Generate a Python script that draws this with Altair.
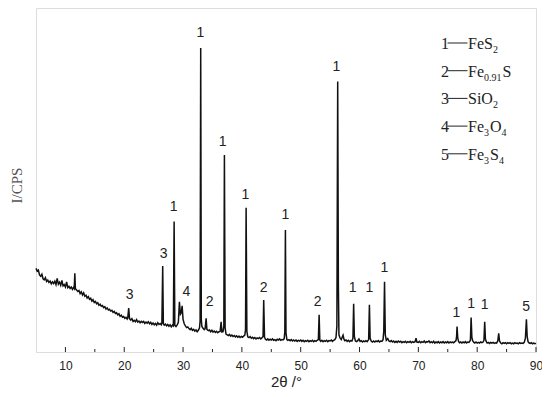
import altair as alt
import pandas as pd

# ---------------- data ----------------
# XRD trace: (2theta in degrees, intensity in arbitrary units 0-100)
trace = [
    (5.0, 24.3), (5.2, 23.5), (5.4, 23.8), (5.6, 22.4), (5.8, 22.0), (6.0, 22.6), (6.2, 21.3),
    (6.4, 21.0), (6.6, 21.6), (6.8, 20.5), (7.0, 20.9), (7.2, 20.2), (7.4, 20.6), (7.6, 19.8),
    (7.8, 20.4), (8.0, 19.9), (8.2, 20.6), (8.4, 19.6), (8.6, 21.4), (8.8, 19.7), (9.0, 20.3),
    (9.2, 19.4), (9.4, 20.8), (9.6, 19.2), (9.8, 19.6), (10.0, 18.9), (10.2, 20.4), (10.4, 18.7),
    (10.6, 19.1), (10.8, 18.5), (11.0, 18.9), (11.2, 18.2), (11.4, 18.8), (11.5, 18.5), (11.6, 22.9),
    (11.7, 18.4), (11.9, 18.0), (12.1, 17.6), (12.3, 17.9), (12.5, 17.0), (12.7, 17.5), (12.9, 16.6),
    (13.1, 17.2), (13.3, 16.2), (13.5, 16.5), (13.7, 15.7), (13.9, 16.1), (14.1, 15.3), (14.3, 15.6),
    (14.5, 14.8), (14.7, 15.2), (14.9, 14.4), (15.1, 14.7), (15.3, 14.0), (15.5, 14.3), (15.7, 13.6),
    (15.9, 13.9), (16.1, 13.3), (16.3, 13.5), (16.5, 12.9), (16.7, 13.2), (16.9, 12.5), (17.1, 12.8),
    (17.3, 12.2), (17.5, 12.4), (17.7, 11.9), (17.9, 12.1), (18.1, 11.5), (18.3, 11.8), (18.5, 11.2),
    (18.7, 11.4), (18.9, 10.8), (19.1, 11.1), (19.3, 10.4), (19.5, 10.7), (19.7, 10.1), (19.9, 10.3),
    (20.1, 9.8), (20.3, 10.1), (20.5, 9.6), (20.6, 9.9), (20.76, 12.8), (20.9, 9.7), (21.1, 9.3),
    (21.3, 9.7), (21.5, 8.9), (21.7, 9.2), (21.9, 8.8), (22.1, 9.4), (22.3, 8.7), (22.5, 9.0),
    (22.7, 8.5), (22.9, 8.9), (23.1, 8.6), (23.3, 8.9), (23.5, 8.3), (23.7, 8.7), (23.9, 8.4),
    (24.1, 8.8), (24.3, 8.2), (24.5, 8.6), (24.7, 8.0), (24.9, 8.4), (25.1, 7.9), (25.3, 8.3),
    (25.5, 7.8), (25.7, 8.5), (25.9, 8.0), (26.1, 8.3), (26.3, 7.9), (26.4, 8.4), (26.54, 25.0),
    (26.65, 8.2), (26.8, 7.8), (27.0, 8.1), (27.2, 7.6), (27.4, 8.0), (27.6, 7.5), (27.8, 7.9),
    (28.0, 7.3), (28.2, 7.8), (28.35, 7.6), (28.48, 37.9), (28.6, 7.8), (28.8, 7.4), (29.0, 7.9),
    (29.2, 8.6), (29.38, 14.6), (29.55, 11.0), (29.7, 11.4), (29.84, 13.4), (30.0, 9.5), (30.2, 8.2),
    (30.4, 7.6), (30.6, 7.1), (30.8, 7.3), (31.0, 6.8), (31.2, 6.5), (31.4, 6.9), (31.6, 6.3),
    (31.8, 6.6), (32.0, 6.1), (32.2, 6.4), (32.4, 5.9), (32.6, 6.3), (32.8, 7.0), (32.9, 9.0),
    (33.0, 88.4), (33.1, 9.5), (33.2, 7.4), (33.4, 6.9), (33.6, 6.5), (33.75, 6.8), (33.92, 9.8),
    (34.05, 6.6), (34.3, 6.2), (34.5, 6.4), (34.7, 5.9), (34.9, 6.3), (35.1, 5.8), (35.3, 6.1),
    (35.5, 5.7), (35.7, 6.0), (35.9, 5.6), (36.1, 5.9), (36.3, 6.0), (36.47, 8.8), (36.6, 5.8),
    (36.8, 5.9), (36.93, 7.5), (37.03, 57.3), (37.15, 7.0), (37.3, 5.2), (37.5, 5.0), (37.7, 4.8),
    (37.9, 5.1), (38.1, 4.6), (38.3, 4.9), (38.5, 4.5), (38.7, 4.8), (38.9, 4.4), (39.1, 4.7),
    (39.3, 4.3), (39.5, 4.6), (39.7, 4.2), (39.9, 4.5), (40.1, 4.3), (40.3, 4.6), (40.5, 4.9),
    (40.62, 6.5), (40.72, 41.9), (40.85, 6.0), (41.0, 4.4), (41.2, 4.2), (41.4, 4.5), (41.6, 4.0),
    (41.8, 4.3), (42.0, 3.9), (42.2, 4.2), (42.4, 3.8), (42.6, 4.1), (42.8, 3.9), (43.0, 4.2),
    (43.2, 3.8), (43.4, 4.1), (43.6, 4.5), (43.71, 15.1), (43.85, 4.3), (44.0, 3.7), (44.2, 3.5),
    (44.4, 3.8), (44.6, 3.4), (44.8, 3.7), (45.0, 3.5), (45.2, 3.8), (45.4, 3.4), (45.6, 3.6),
    (45.8, 3.3), (46.0, 3.7), (46.2, 3.5), (46.4, 3.8), (46.6, 3.4), (46.8, 3.6), (47.0, 3.5),
    (47.2, 3.9), (47.3, 6.0), (47.4, 35.5), (47.5, 5.5), (47.65, 3.6), (47.8, 3.4), (48.0, 3.6),
    (48.2, 3.3), (48.4, 3.6), (48.6, 3.2), (48.8, 3.5), (49.0, 3.2), (49.2, 3.5), (49.4, 3.1),
    (49.6, 3.4), (49.8, 3.2), (50.0, 3.5), (50.2, 3.1), (50.4, 3.4), (50.6, 3.0), (50.8, 3.3),
    (51.0, 3.1), (51.2, 3.4), (51.4, 3.0), (51.6, 3.3), (51.8, 3.1), (52.0, 3.4), (52.2, 3.0),
    (52.4, 3.3), (52.6, 3.1), (52.8, 3.4), (53.0, 3.6), (53.13, 10.8), (53.25, 3.5), (53.4, 3.1),
    (53.6, 3.4), (53.8, 3.0), (54.0, 3.3), (54.2, 3.1), (54.4, 3.4), (54.6, 3.0), (54.8, 3.3),
    (55.0, 3.2), (55.2, 3.5), (55.4, 3.1), (55.6, 3.4), (55.8, 3.6), (56.0, 4.2), (56.15, 7.5),
    (56.29, 78.6), (56.4, 20.0), (56.5, 5.0), (56.7, 4.0), (56.9, 3.6), (57.1, 4.5), (57.2, 4.9),
    (57.35, 3.7), (57.5, 3.3), (57.7, 3.5), (57.9, 3.1), (58.1, 3.4), (58.3, 3.0), (58.5, 3.3),
    (58.7, 3.2), (58.88, 4.0), (59.0, 14.0), (59.12, 4.5), (59.3, 3.2), (59.5, 3.0), (59.7, 3.3),
    (59.9, 3.8), (60.1, 3.1), (60.3, 3.3), (60.5, 2.9), (60.7, 3.2), (60.9, 3.0), (61.1, 3.3),
    (61.3, 3.0), (61.55, 3.6), (61.68, 13.7), (61.8, 4.0), (62.0, 3.1), (62.2, 2.9), (62.4, 3.2),
    (62.6, 2.9), (62.8, 3.2), (63.0, 3.0), (63.2, 3.3), (63.4, 2.9), (63.6, 3.2), (63.8, 3.1),
    (64.0, 3.6), (64.12, 6.0), (64.25, 20.4), (64.38, 5.0), (64.55, 3.4), (64.8, 3.9), (65.0, 3.2),
    (65.2, 3.0), (65.4, 3.3), (65.6, 2.9), (65.8, 3.2), (66.0, 2.8), (66.2, 3.1), (66.4, 2.8),
    (66.6, 3.2), (66.8, 2.9), (67.0, 3.1), (67.2, 2.7), (67.4, 3.0), (67.6, 2.8), (67.8, 3.1),
    (68.0, 2.7), (68.2, 3.0), (68.4, 2.8), (68.6, 3.1), (68.8, 2.7), (69.0, 3.0), (69.2, 2.8),
    (69.45, 3.0), (69.6, 4.0), (69.75, 2.9), (70.0, 2.8), (70.2, 3.1), (70.4, 2.7), (70.6, 3.0),
    (70.8, 2.8), (71.0, 3.2), (71.2, 2.7), (71.4, 3.0), (71.6, 2.9), (71.8, 3.2), (72.0, 2.7),
    (72.2, 3.0), (72.4, 2.7), (72.6, 3.1), (72.8, 2.6), (73.0, 2.9), (73.2, 2.7), (73.4, 3.0),
    (73.6, 2.6), (73.8, 2.9), (74.0, 2.7), (74.2, 3.0), (74.4, 2.6), (74.6, 2.9), (74.8, 2.7),
    (75.0, 3.0), (75.2, 2.6), (75.4, 2.9), (75.6, 2.7), (75.8, 2.9), (76.0, 2.7), (76.2, 3.0),
    (76.4, 3.3), (76.5, 4.5), (76.58, 7.4), (76.7, 4.0), (76.85, 3.0), (77.0, 2.7), (77.2, 2.9),
    (77.4, 2.6), (77.6, 2.9), (77.8, 2.7), (78.0, 3.0), (78.2, 2.6), (78.4, 2.9), (78.6, 2.8),
    (78.85, 3.4), (78.97, 10.0), (79.1, 4.2), (79.25, 3.2), (79.45, 2.8), (79.6, 2.6), (79.8, 2.9),
    (80.0, 2.6), (80.2, 2.8), (80.4, 2.6), (80.6, 2.9), (80.8, 2.7), (81.0, 2.9), (81.15, 3.4),
    (81.28, 8.8), (81.4, 3.8), (81.55, 3.0), (81.7, 2.6), (81.9, 2.8), (82.1, 2.5), (82.3, 2.8),
    (82.5, 2.6), (82.7, 2.8), (82.9, 2.5), (83.1, 2.7), (83.3, 2.6), (83.5, 3.2), (83.66, 5.4),
    (83.8, 3.2), (84.0, 2.6), (84.2, 2.4), (84.4, 2.7), (84.6, 2.5), (84.8, 2.7), (85.0, 2.4),
    (85.2, 2.7), (85.4, 2.5), (85.6, 2.7), (85.8, 2.4), (86.0, 2.6), (86.2, 2.4), (86.4, 2.7),
    (86.6, 2.5), (86.8, 2.6), (87.0, 2.4), (87.2, 2.7), (87.4, 2.5), (87.6, 2.6), (87.8, 2.5),
    (88.0, 2.8), (88.2, 4.0), (88.37, 9.5), (88.5, 4.5), (88.65, 3.0), (88.85, 2.6), (89.0, 2.5),
    (89.2, 2.7), (89.4, 2.4), (89.6, 2.6), (89.8, 2.4), (90.0, 2.5),
]
two_theta = [p[0] for p in trace]
intensity = [p[1] for p in trace]

# peak labels (phase number, label position in 2theta / intensity units)
label_text = ["3", "3", "1", "4", "1", "2", "1", "1", "2", "1", "2", "1", "1", "1", "1", "1", "1", "1", "5"]
label_theta = [20.93, 26.71, 28.41, 30.57, 32.95, 34.53, 36.74, 40.6, 43.71, 47.4, 52.9, 56.07,
               58.84, 61.68, 64.23, 76.47, 78.97, 81.28, 88.32]
label_int = [16.6, 28.5, 42.2, 17.5, 92.7, 14.6, 61.1, 45.6, 18.5, 39.8, 14.6, 82.9,
             18.5, 18.5, 24.3, 11.4, 14.0, 13.7, 13.2]

# axis ticks
major_ticks = [10, 20, 30, 40, 50, 60, 70, 80, 90]
minor_ticks = [15, 25, 35, 45, 55, 65, 75, 85]

# phase legend
legend_nums = ["1", "2", "3", "4", "5"]
legend_parts = [
    [("FeS", False), ("2", True)],
    [("Fe", False), ("0.91", True), ("S", False)],
    [("SiO", False), ("2", True)],
    [("Fe", False), ("3", True), ("O", False), ("4", True)],
    [("Fe", False), ("3", True), ("S", False), ("4", True)],
]

# ---------------- layout ----------------
W, H = 500, 344
X0, X1 = 5, 90
Y0, Y1 = 0, 100


def px_to_x(px):
    return X0 + px * (X1 - X0) / W


def py_to_y(py):
    return Y1 - py * (Y1 - Y0) / H


MAIN_SIZE, SUB_SIZE, SUB_DROP = 16, 10, 4
char_w = {"F": 0.556, "e": 0.444, "S": 0.556, "i": 0.278, "O": 0.722, ".": 0.25}

num_rows, dash_rows, main_rows, sub_rows = [], [], [], []
for i, (num, parts) in enumerate(zip(legend_nums, legend_parts)):
    base = 41 + i * 27.7
    num_rows.append({"t": num, "x": px_to_x(405), "y": py_to_y(base)})
    dash_rows.append({"x": px_to_x(411.5), "x2": px_to_x(431.5), "y": py_to_y(base - 6)})
    cur = 432.0
    for txt, sub in parts:
        size = SUB_SIZE if sub else MAIN_SIZE
        row = {"t": txt, "x": px_to_x(cur), "y": py_to_y(base + (SUB_DROP if sub else 0))}
        (sub_rows if sub else main_rows).append(row)
        cur += sum(char_w.get(c, 0.5) for c in txt) * size + (1 if sub else 0)

xscale = alt.Scale(domain=[X0, X1], nice=False, zero=False)
yscale = alt.Scale(domain=[Y0, Y1], nice=False, zero=False)

xaxis = alt.Axis(values=major_ticks, format="d", grid=False, ticks=False, tickSize=0, domain=False,
                 labelFont="Liberation Sans", labelFontSize=12, labelColor="#222", labelPadding=8,
                 labelFlush=False, title="2θ /°", titleFont="Liberation Sans", titleFontSize=15,
                 titleFontWeight="normal", titleColor="#222", titlePadding=3)
yaxis = alt.Axis(labels=False, ticks=False, domain=False, grid=False, title="I/CPS",
                 titleFont="Liberation Serif", titleFontSize=15, titleFontWeight="normal",
                 titleColor="#555", titleAngle=270, titleAlign="center", titleBaseline="middle",
                 titleX=-20, titleY=177)

df = pd.DataFrame({"two_theta": two_theta, "intensity": intensity})
line = alt.Chart(df).mark_line(color="#111", strokeWidth=1.5).encode(
    x=alt.X("two_theta:Q", scale=xscale, axis=xaxis),
    y=alt.Y("intensity:Q", scale=yscale, axis=yaxis),
)

labels = alt.Chart(pd.DataFrame({"t": label_text, "x": label_theta, "y": label_int})).mark_text(
    font="Liberation Sans", fontSize=14, color="#222", baseline="middle", align="center"
).encode(x=alt.X("x:Q", scale=xscale), y=alt.Y("y:Q", scale=yscale), text="t:N")

maj = alt.Chart(pd.DataFrame({"x": major_ticks})).mark_rule(color="#222", strokeWidth=1).encode(
    x=alt.X("x:Q", scale=xscale), y=alt.value(H), y2=alt.value(H - 5))
mnr = alt.Chart(pd.DataFrame({"x": minor_ticks})).mark_rule(color="#222", strokeWidth=1).encode(
    x=alt.X("x:Q", scale=xscale), y=alt.value(H), y2=alt.value(H - 3))

leg_num = alt.Chart(pd.DataFrame(num_rows)).mark_text(
    font="Liberation Serif", fontSize=MAIN_SIZE, color="#222", align="left", baseline="alphabetic"
).encode(x=alt.X("x:Q", scale=xscale), y=alt.Y("y:Q", scale=yscale), text="t:N")
leg_dash = alt.Chart(pd.DataFrame(dash_rows)).mark_rule(color="#222", strokeWidth=1).encode(
    x=alt.X("x:Q", scale=xscale), x2="x2:Q", y=alt.Y("y:Q", scale=yscale))
leg_main = alt.Chart(pd.DataFrame(main_rows)).mark_text(
    font="Liberation Serif", fontSize=MAIN_SIZE, color="#222", align="left", baseline="alphabetic"
).encode(x=alt.X("x:Q", scale=xscale), y=alt.Y("y:Q", scale=yscale), text="t:N")
leg_sub = alt.Chart(pd.DataFrame(sub_rows)).mark_text(
    font="Liberation Serif", fontSize=SUB_SIZE, color="#222", align="left", baseline="alphabetic"
).encode(x=alt.X("x:Q", scale=xscale), y=alt.Y("y:Q", scale=yscale), text="t:N")

chart = alt.layer(line, labels, maj, mnr, leg_num, leg_dash, leg_main, leg_sub).properties(
    width=W, height=H,
    autosize=alt.AutoSizeParams(type="none"),
    padding={"left": 28, "top": 0, "right": 6, "bottom": 37},
).configure_view(stroke="#222", strokeWidth=1.5).configure(background="white")

chart.save("out.html", embed_options={"renderer": "svg", "actions": False})
